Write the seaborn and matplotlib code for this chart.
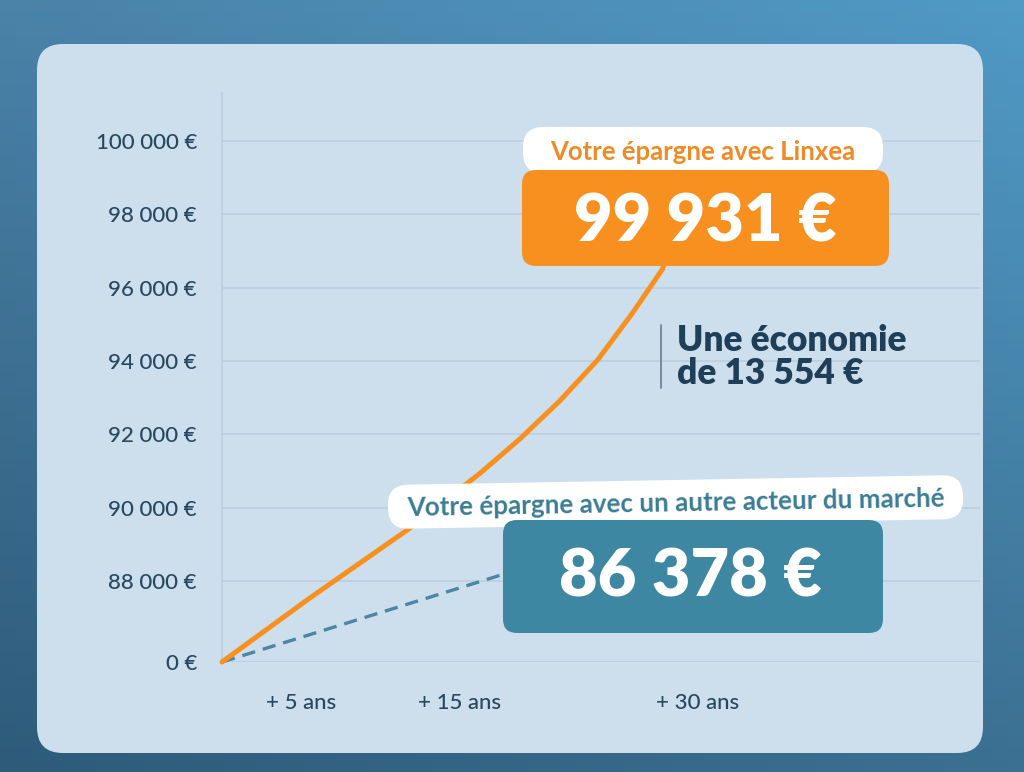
import numpy as np
import pandas as pd
import seaborn as sns
import matplotlib.pyplot as plt
from matplotlib.patches import FancyBboxPatch
from matplotlib.transforms import Affine2D

# data (years, euros)
years = [0, 5.5, 11.7, 16.3, 18.8, 21.3, 23.7, 25.9, 27.8, 30]
linxea = [0, 69200, 89400, 90950, 91880, 92910, 94030, 95310, 96510, 99931]
other_years = [0, 5, 10, 15, 17.6, 30]
other = [0, 26900, 53900, 80800, 88170, 86378]

y_ticks = [0, 88000, 90000, 92000, 94000, 96000, 98000, 100000]
x_ticks = [5, 15, 30]
x_labels = ['+ 5 ans', '+ 15 ans', '+ 30 ans']

orange = '#f7901e'
teal = '#3e87a2'
navy = '#1f3f58'

sns.set_theme(style='white')
plt.rcParams['font.family'] = ['Lato', 'DejaVu Sans']

W, H = 1024, 772
fig = plt.figure(figsize=(W / 100, H / 100), dpi=100)

# background gradient + card, in pixel coords
bg = fig.add_axes([0, 0, 1, 1])
bg.set_xlim(0, W)
bg.set_ylim(H, 0)
bg.axis('off')
gx, gy = np.meshgrid(np.linspace(0, 1, 64), np.linspace(0, 1, 64))
top_l, top_r = np.array([0x4a, 0x82, 0xa8]), np.array([0x50, 0x9a, 0xc6])
bot_l, bot_r = np.array([0x2e, 0x5b, 0x7a]), np.array([0x3c, 0x70, 0x92])
grad = ((1 - gy)[..., None] * ((1 - gx)[..., None] * top_l + gx[..., None] * top_r)
        + gy[..., None] * ((1 - gx)[..., None] * bot_l + gx[..., None] * bot_r)) / 255
bg.imshow(grad, extent=(0, W, H, 0), aspect='auto', zorder=0)
bg.add_patch(FancyBboxPatch((37, 44), 946, 709, boxstyle='round,pad=0,rounding_size=26',
                            fc='#cddfed', ec='none', zorder=1))

# broken y axis: 0 -> 88 000 squeezed, then 2 000 per step
def fwd(v):
    return np.interp(v, [0, 88000, 300000], [0, 1.1, 1.1 + 106])

def inv(p):
    return np.interp(p, [0, 1.1, 1.1 + 106], [0, 88000, 300000])

x0, x1, yb, yt = 222, 980, 662, 93
ax = fig.add_axes([x0 / W, (H - yb) / H, (x1 - x0) / W, (yb - yt) / H])
ax.patch.set_alpha(0)
ax.set_yscale('function', functions=(fwd, inv))

df1 = pd.DataFrame({'annee': years, 'epargne': linxea})
df2 = pd.DataFrame({'annee': other_years, 'epargne': other})
sns.lineplot(data=df2, x='annee', y='epargne', ax=ax, color='#4b86a2', lw=2.4,
             linestyle=(0, (4, 2.4)), clip_on=False, zorder=3)
sns.lineplot(data=df1, x='annee', y='epargne', ax=ax, color=orange, lw=3.6,
             solid_capstyle='round', solid_joinstyle='round', clip_on=False, zorder=4)

ax.set_xlim(0, (x1 - x0) / 15.85)
ax.set_ylim(0, inv((yb - yt) / 73.4))
ax.set_yticks(y_ticks)
ax.set_yticklabels([f'{v:,}'.replace(',', ' ') + ' €' for v in y_ticks])
ax.set_xticks(x_ticks)
ax.set_xticklabels(x_labels)
ax.tick_params(length=0, labelsize=16, labelcolor='#284860')
for t in ax.get_xticklabels() + ax.get_yticklabels():
    t.set_fontweight('medium')
ax.tick_params(axis='y', pad=18)
ax.tick_params(axis='x', pad=22)
ax.set_xlabel('')
ax.set_ylabel('')
ax.grid(axis='y', color='#bccfdf', lw=1.2)
ax.grid(axis='x', visible=False)
for s in ['top', 'right', 'bottom']:
    ax.spines[s].set_visible(False)
ax.spines['left'].set_color('#bccfdf')
ax.spines['left'].set_linewidth(1.2)

# overlay for the callouts
ov = fig.add_axes([0, 0, 1, 1])
ov.set_xlim(0, W)
ov.set_ylim(H, 0)
ov.axis('off')
ov.patch.set_alpha(0)

ov.add_patch(FancyBboxPatch((523, 127), 360, 46, boxstyle='round,pad=0,rounding_size=20',
                            fc='white', ec='none'))
ov.text(703, 152, 'Votre épargne avec Linxea', ha='center', va='center',
        fontsize=18.5, fontweight='bold', color='#f08a24')
ov.add_patch(FancyBboxPatch((522, 170), 367, 96, boxstyle='round,pad=0,rounding_size=14',
                            fc=orange, ec='none'))
ov.text(705, 222, '99 931 €', ha='center', va='center', fontsize=48,
        fontweight='heavy', color='white')

ov.plot([661, 661], [325, 388], color='#6f8598', lw=1.3)
ov.text(677, 357, 'Une économie\nde 13 554 €', ha='left', va='center', fontsize=25.5,
        fontweight='heavy', color=navy, linespacing=1.02)

rot = Affine2D().rotate_deg_around(675, 502, -1) + ov.transData
ov.add_patch(FancyBboxPatch((388, 480), 575, 44, boxstyle='round,pad=0,rounding_size=20',
                            fc='white', ec='none', transform=rot))
ov.text(676, 503, 'Votre épargne avec un autre acteur du marché', ha='center', va='center',
        fontsize=18.7, fontweight='bold', color='#3b7c96', rotation=1, rotation_mode='anchor')
ov.add_patch(FancyBboxPatch((503, 520), 380, 113, boxstyle='round,pad=0,rounding_size=14',
                            fc=teal, ec='none'))
ov.text(690, 577, '86 378 €', ha='center', va='center', fontsize=48,
        fontweight='heavy', color='white')

fig.savefig('out.png', dpi=100)
